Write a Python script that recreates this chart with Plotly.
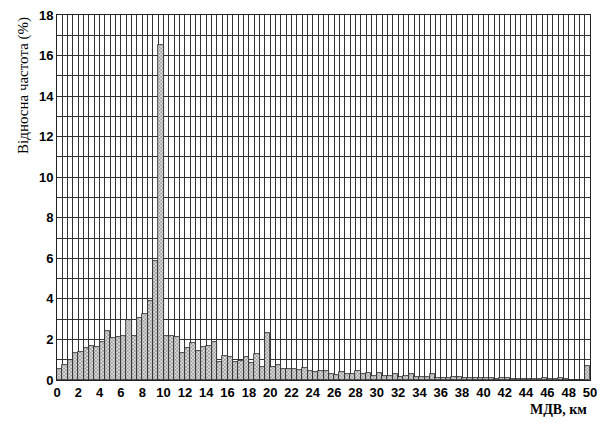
import plotly.graph_objects as go

bin_width = 0.5
bin_starts = [i * bin_width for i in range(100)]

frequency = [
    0.55, 0.74, 0.98, 1.33, 1.36, 1.56, 1.67, 1.61, 1.85, 2.41,
    2.05, 2.13, 2.16, 2.96, 2.18, 3.07, 3.25, 3.89, 5.85, 16.5,
    2.18, 2.16, 2.10, 1.35, 1.56, 1.84, 1.43, 1.61, 1.67, 1.87,
    0.90, 1.18, 1.12, 0.90, 0.92, 1.13, 0.85, 1.28, 0.66, 2.30,
    0.62, 0.72, 0.53, 0.56, 0.53, 0.49, 0.58, 0.44, 0.41, 0.43,
    0.42, 0.30, 0.25, 0.40, 0.28, 0.28, 0.42, 0.32, 0.35, 0.20,
    0.33, 0.18, 0.18, 0.28, 0.15, 0.22, 0.28, 0.15, 0.15, 0.15,
    0.32, 0.08, 0.12, 0.12, 0.15, 0.14, 0.08, 0.10, 0.12, 0.10,
    0.08, 0.10, 0.06, 0.08, 0.12, 0.06, 0.05, 0.06, 0.04, 0.05,
    0.06, 0.08, 0.05, 0.06, 0.10, 0.03, 0.02, 0.02, 0.02, 0.68,
]

x_tick_vals = list(range(0, 51, 2))
y_tick_vals = list(range(0, 19, 2))

fig = go.Figure()
fig.add_trace(go.Bar(
    x=[s + bin_width / 2 for s in bin_starts],
    y=frequency,
    width=bin_width,
    marker=dict(
        color="white",
        line=dict(color="#222222", width=0.8),
        pattern=dict(shape="x", size=2.5, solidity=0.55, fgcolor="#555555", bgcolor="#e0e0e0"),
    ),
    showlegend=False,
))

fig.update_layout(
    width=605, height=423,
    margin=dict(l=57, r=8, t=12, b=43),
    paper_bgcolor="white", plot_bgcolor="white",
    bargap=0,
    font=dict(family="Liberation Sans", size=13, color="black"),
)
fig.update_xaxes(
    range=[0, 50],
    tickvals=x_tick_vals,
    ticks="", showline=True, linecolor="#222", linewidth=1, mirror=True,
    showgrid=True, gridcolor="#333333", gridwidth=1,
    minor=dict(dtick=0.5, tick0=0, showgrid=True, gridcolor="#333333", gridwidth=1),
    tickfont=dict(family="Liberation Sans", size=13, color="black", weight="bold"),
    ticklabeloverflow="allow",
    zeroline=False,
)
fig.update_yaxes(
    range=[0, 18],
    tickvals=y_tick_vals,
    ticks="", showline=True, linecolor="#222", linewidth=1, mirror=True,
    showgrid=True, gridcolor="#333333", gridwidth=1,
    minor=dict(dtick=1, tick0=0, showgrid=True, gridcolor="#333333", gridwidth=1),
    tickfont=dict(family="Liberation Sans", size=13, color="black", weight="bold"),
    ticklabeloverflow="allow",
    zeroline=False,
)
fig.add_annotation(
    text="Відносна частота (%)", textangle=-90,
    xref="paper", yref="paper", x=-0.063, y=1.0,
    xanchor="center", yanchor="top", showarrow=False,
    font=dict(family="Liberation Serif", size=15, color="black"),
)
fig.add_annotation(
    text="<b>МДВ, км</b>",
    xref="paper", yref="paper", x=0.94, y=-0.08,
    xanchor="center", yanchor="middle", showarrow=False,
    font=dict(family="Liberation Serif", size=14, color="black"),
)
fig.write_html("out.html", config={"displayModeBar": False},
               post_script="document.body.style.margin='0';")
